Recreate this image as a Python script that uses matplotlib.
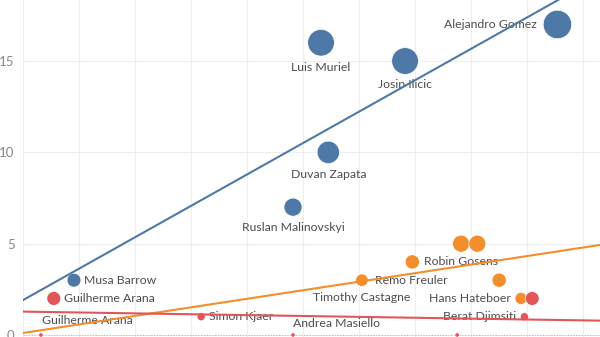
import matplotlib.pyplot as plt
import numpy as np

plt.rcParams["font.family"] = ["Lato", "DejaVu Sans"]

# data (x in gridline units, y = goals)
players = [
    "Alejandro Gomez", "Luis Muriel", "Josip Ilicic", "Duvan Zapata",
    "Ruslan Malinovskyi", "Musa Barrow", "Guilherme Arana", "Robin Gosens",
    "", "", "", "Remo Freuler", "Timothy Castagne", "Hans Hateboer", "",
    "Berat Djimsiti", "Simon Kjaer", "Guilherme Arana", "Andrea Masiello", "",
]
x_vals = [9.54, 5.32, 6.82, 5.45, 4.82, 0.91, 0.55, 6.95, 7.82, 8.11, 8.50,
          6.05, 6.05, 8.89, 9.09, 8.95, 3.18, 0.32, 4.82, 7.75]
goals = [17, 16, 15, 10, 7, 3, 2, 4, 5, 5, 3, 3, 3, 2, 2, 1, 1, 0, 0, 0]
group = ["fwd", "fwd", "fwd", "fwd", "fwd", "fwd", "def", "mid", "mid", "mid",
         "mid", "mid", "mid", "mid", "def", "def", "def", "def", "def", "def"]
size_values = [420, 370, 370, 260, 170, 100, 100, 105, 150, 150, 105, 80, 80,
               75, 100, 35, 35, 10, 10, 10]

# trend lines (intercept, slope)
trend = {"fwd": (1.91, 1.72), "mid": (0.11, 0.468), "def": (1.28, -0.048)}

colors = {"fwd": "#4e79a7", "mid": "#f28e2b", "def": "#e15759"}

# label placement per point: (dx px, dy px, ha)
placement = [
    (-21, 0, "right"), (0, -25, "center"), (0, -23, "center"), (0, -22, "center"),
    (0, -20, "center"), (10, 0, "left"), (10, 0, "left"), (12, 0, "left"),
    None, None, None, (13, 0, "left"), (0, -17, "center"), (-10, 0, "right"), None,
    (-8, 0, "right"), (8, 0, "left"), (1, 14, "left"), (0, 11, "left"), None,
]

fig = plt.figure(figsize=(6, 3.37), dpi=100)
ax = fig.add_axes([23 / 600, 0, 577 / 600, 1])

for g in ["fwd", "mid", "def"]:
    idx = [i for i, k in enumerate(group) if k == g]
    ax.scatter([x_vals[i] for i in idx], [goals[i] for i in idx],
               s=[size_values[i] for i in idx], color=colors[g],
               edgecolors="white", linewidths=0.5, zorder=3, clip_on=True)

xs = np.array([0, 10.3])
for g, (b, m) in trend.items():
    ax.plot(xs, b + m * xs, color=colors[g], lw=1.5, zorder=5)

px = 0.72
for i, name in enumerate(players):
    if not name or placement[i] is None:
        continue
    dx, dy, ha = placement[i]
    ax.annotate(name, (x_vals[i], goals[i]), xytext=(dx * px, dy * px),
                textcoords="offset points", ha=ha, va="center",
                fontsize=8.8, color="#4d4d4d", zorder=4)

ax.axhline(0, color="#bbbbbb", lw=0.8, ls=(0, (1, 1.5)), zorder=1)

ax.set_xlim(0, 10.3)
ax.set_ylim(-0.11, 18.34)
ax.set_xticks(np.arange(0, 11, 1))
ax.set_yticks([0, 5, 10, 15])
ax.set_xticklabels([])
ax.tick_params(axis="both", length=0)
ax.tick_params(axis="y", labelsize=9.5, labelcolor="#888888", pad=6)
ax.grid(True, color="#eeeeee", lw=0.8)
ax.set_axisbelow(True)
for s in ax.spines.values():
    s.set_visible(False)

fig.savefig("out.png", dpi=100)
plt.close(fig)
